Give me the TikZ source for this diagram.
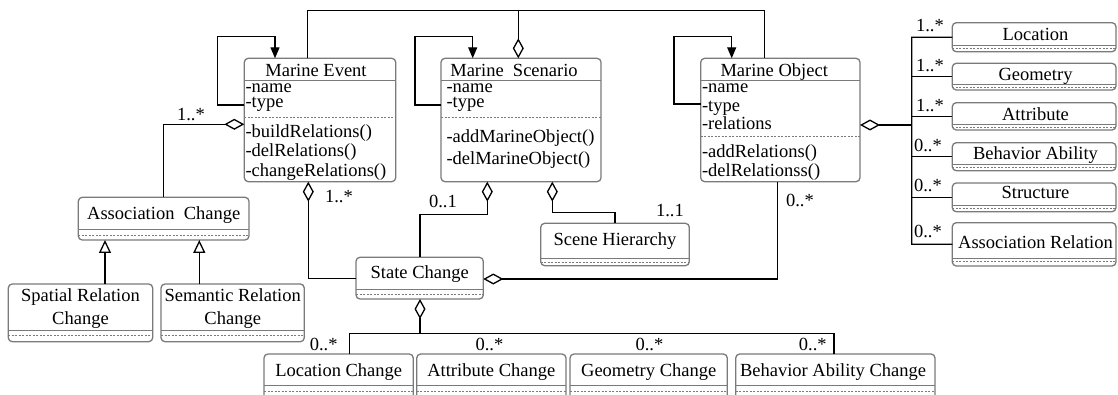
\documentclass[tikz,border=0pt]{standalone}
\usepackage{fontspec}
\setmainfont{Liberation Serif}
\usetikzlibrary{arrows.meta}
\definecolor{boxgray}{HTML}{7A7A7A}
\tikzset{
  umlbox/.style={draw=boxgray, line width=1.3pt, rounded corners=4pt,
    inner sep=0pt, outer sep=0pt},
  sepline/.style={draw=boxgray, line width=1pt},
  sepdash/.style={draw=boxgray, line width=0.8pt, dash pattern=on 2pt off 1.5pt},
  txt/.style={inner sep=0pt, outer sep=0pt, anchor=base,
    font=\fontsize{18.5}{20}\selectfont},
  ltxt/.style={txt, anchor=base west},
  rtxt/.style={txt, anchor=base east},
  % member list: several lines with a given baseline distance
  members/.style={inner sep=0pt, outer sep=0pt, anchor=north west, align=left,
    font=\fontsize{18.5}{#1}\selectfont},
  link/.style={draw=black, line width=1.3pt},
  aggr/.style={link, {Diamond[open, length=20pt, width=11pt]}-},
  selfref/.style={link, -{Triangle[length=11pt, width=9pt]}},
  gen/.style={link, -{Triangle[open, length=13pt, width=12pt]}},
}
% class box: name, x1, y1, x2, y2, y of solid rule, y of dashed rule
\newcommand\umlclass[7]{%
  \node[umlbox, minimum width={(#4-#2)*1pt}, minimum height={(#5-#3)*1pt}]
    (#1) at ({(#2+#4)/2},{(#3+#5)/2}) {};
  \draw[sepline] (#1.west |- 0,#6) -- (#1.east |- 0,#6);
  \draw[sepdash] (#1.west |- 0,#7) -- (#1.east |- 0,#7);
}
% strut of fixed height for the first line of a member list
\newcommand\firstline{\rule{0pt}{12pt}}
\begin{document}
\begin{tikzpicture}[x=1pt, y=-1pt]
\useasboundingbox (0,0) rectangle (1118,395);
\clip (0,0) rectangle (1118,395);

% ---- main classes ----
\umlclass{ev}{244.3}{58.3}{395.7}{181.7}{81}{117.3}
\umlclass{scn}{441}{58.3}{601}{181.7}{81}{117.3}
\umlclass{obj}{700.7}{58.3}{860}{181.7}{81}{136.7}

\node[txt] (ev-t) at (316,77) {Marine Event};
\node[members=15] (ev-attr) at (245.5,{93-12}) {\firstline-name\\-type};
\node[members=19.7] (ev-ops) at (245.5,{136.3-12})
  {\firstline-buildRelations()\\-delRelations()\\-changeRelations()};

\node[txt] (scn-t) at (514,77) {Marine\ \ Scenario};
\node[members=15] (scn-attr) at (446.5,{93-12}) {\firstline-name\\-type};
\node[members=22] (scn-ops) at (446.5,{142-12})
  {\firstline-addMarineObject()\\-delMarineObject()};

\node[txt] (obj-t) at (774.2,77) {Marine Object};
\node[members=18.5] (obj-attr) at (702,{93-12})
  {\firstline-name\\-type\\-relations};
\node[members=19.5] (obj-ops) at (702,{156.5-12})
  {\firstline-addRelations()\\-delRelationss()};

% ---- parts of a marine object ----
\umlclass{loc}{952.3}{22.7}{1116}{51.7}{46}{48.5}
\umlclass{geo}{952.3}{63.3}{1116}{90}{84.5}{87.2}
\umlclass{att}{952.3}{102.7}{1116}{130}{124.5}{127.2}
\umlclass{bab}{952.3}{142.7}{1116}{170.7}{165}{167.8}
\umlclass{str}{952.3}{183}{1116}{211.7}{206}{208.8}
\umlclass{arel}{952.3}{222.7}{1116}{266}{258}{261}
\node[txt] (loc-t) at (1035.5,40.7) {Location};
\node[txt] (geo-t) at (1035.5,81) {Geometry};
\node[txt] (att-t) at (1035.5,120.5) {Attribute};
\node[txt] (bab-t) at (1035.5,160) {Behavior Ability};
\node[txt] (str-t) at (1035.5,198.7) {Structure};
\node[txt] (arel-t) at (1035.5,248.5) {Association Relation};

% ---- change classes ----
\umlclass{asc}{78.3}{197.3}{249}{240}{230}{235}
\umlclass{spat}{8.3}{284}{152.7}{341.7}{330}{335.5}
\umlclass{sem}{161}{284}{304.3}{341.7}{330}{335.5}
\umlclass{stc}{356}{257.3}{483.3}{299}{289}{294}
\umlclass{sh}{540.7}{223.3}{689.3}{265.7}{258.5}{262}
\umlclass{lc}{264}{354}{413.3}{405}{385}{391.5}
\umlclass{ac}{416.7}{354}{566}{405}{385}{391.5}
\umlclass{gc}{570}{354}{727.3}{405}{385}{391.5}
\umlclass{bac}{735.7}{354}{935}{405}{385}{391.5}

\node[txt] (asc-t) at (163.7,219.5) {Association\ \ Change};
\node[txt] (spat-t1) at (80.5,301) {Spatial Relation};
\node[txt] (spat-t2) at (80.5,324.3) {Change};
\node[txt] (sem-t1) at (232.7,301) {Semantic Relation};
\node[txt] (sem-t2) at (232.7,324.3) {Change};
\node[txt] (stc-t) at (419.7,278.7) {State Change};
\node[txt] (sh-t) at (615,245) {Scene Hierarchy};
\node[txt] (lc-t) at (338.7,376) {Location Change};
\node[txt] (ac-t) at (491.3,376) {Attribute Change};
\node[txt] (gc-t) at (648.7,376) {Geometry Change};
\node[txt] (bac-t) at (833,376) {Behavior Ability Change};

% ---- top bar linking the three main classes ----
\coordinate (topbar) at (518.3,10.7);
\draw[link] (ev.north -| 307.3,0) |- (topbar) -| (obj.north -| 764.3,0);
\draw[aggr] (scn.north -| 518.3,0) -- (topbar);

% ---- self references ----
\draw[selfref] (ev.west |- 0,105) -| (217.3,36.7) -| (ev.north -| 275,0);
\draw[selfref] (scn.west |- 0,105) -| (415,36.7) -| (scn.north -| 472.7,0);
\draw[selfref] (obj.west |- 0,104) -| (674,36.7) -| (obj.north -| 731.7,0);

% ---- marine object aggregation bus ----
\coordinate (bus) at (911.7,244.3);
\draw[aggr] (obj.east |- 0,125) -- (obj.east |- 0,125 -| bus);
\draw[link] (loc.west) -| (bus) -- (arel.west);
\draw[link] (geo.west) -- (geo.west -| bus);
\draw[link] (att.west) -- (att.west -| bus);
\draw[link] (bab.west) -- (bab.west -| bus);
\draw[link] (str.west) -- (str.west -| bus);
\node[ltxt] (m-loc) at (916,32) {1..*};
\node[ltxt] (m-geo) at (916,72) {1..*};
\node[ltxt] (m-att) at (916,111.5) {1..*};
\node[ltxt] (m-bab) at (914,151.5) {0..*};
\node[ltxt] (m-str) at (914,192) {0..*};
\node[ltxt] (m-arel) at (914,237) {0..*};

% ---- association change ----
\draw[aggr] (ev.west |- 0,124.3) -| (asc.north -| 163.3,0);
\node[ltxt] (m-asc) at (177,120.5) {1..*};
\draw[gen] (spat.north -| 105,0) -- (asc.south -| 105,0);
\draw[gen] (sem.north -| 199.3,0) -- (asc.south -| 199.3,0);

% ---- state change ----
\draw[aggr] (ev.south -| 308.3,0) |- (stc.west);
\node[ltxt] (m-ev) at (325,203) {1..*};
\draw[aggr] (scn.south -| 487.3,0) |- (420,214.3) -- (stc.north -| 420,0);
\node[ltxt] (m-scn) at (429,207.5) {0..1};
\draw[aggr] (scn.south -| 552.3,0) |- (615,212.3) -- (sh.north);
\node[ltxt] (m-sh) at (656,216.5) {1..1};
\draw[aggr] (stc.east |- 0,279) -| (obj.south -| 777.3,0);
\node[ltxt] (m-obj) at (786,206.5) {0..*};

% ---- kinds of state change ----
\coordinate (bbus) at (420,333.3);
\draw[aggr] (stc.south -| bbus) -- (bbus);
\draw[link] (lc.north -| 349.3,0) |- (bbus) -| (bac.north -| 834,0);
\draw[link] (ac.north -| 508.3,0) -- (ac.north -| 508.3,0 |- bbus);
\draw[link] (gc.north -| 671,0) -- (gc.north -| 671,0 |- bbus);
\node[rtxt] (m-lc) at (337.5,350) {0..*};
\node[rtxt] (m-ac) at (503.3,350) {0..*};
\node[rtxt] (m-gc) at (663.3,350) {0..*};
\node[rtxt] (m-bac) at (826.7,350) {0..*};
\end{tikzpicture}
\end{document}
